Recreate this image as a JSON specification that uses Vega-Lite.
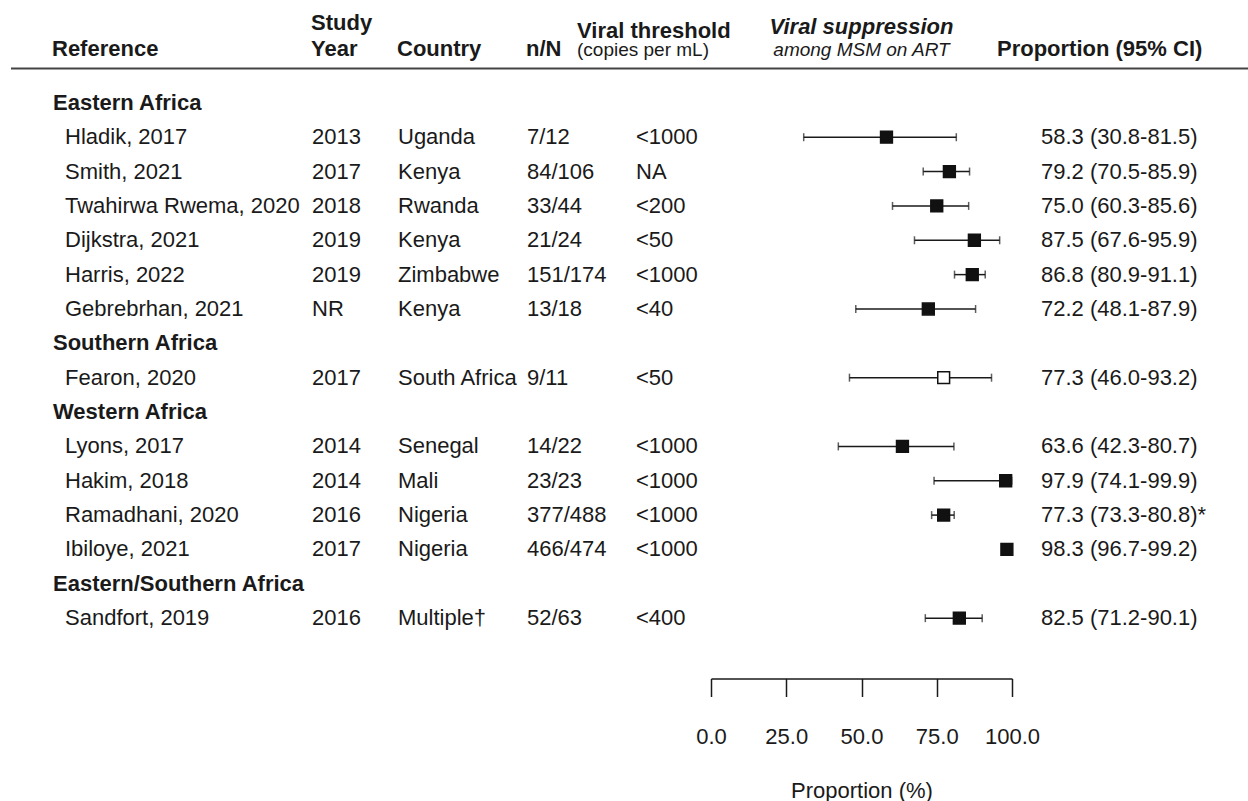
{
  "$schema": "https://vega.github.io/schema/vega-lite/v6.json",
  "padding": {"left": 10, "top": 11.5, "right": 0, "bottom": 0},
  "bounds": "flush",
  "spacing": 0,
  "config": {
    "view": {"stroke": null},
    "font": "Liberation Sans",
    "text": {"font": "Liberation Sans", "fontSize": 22, "color": "#1a1a1a"},
    "title": {"font": "Liberation Sans", "fontSize": 22, "fontWeight": "bold", "color": "#1a1a1a", "anchor": "start", "offset": 7, "subtitleFont": "Liberation Sans", "subtitleFontSize": 19, "subtitleColor": "#1a1a1a"}
  },
  "datasets": {
    "rows": [
      {"label": "Eastern Africa", "kind": "group"},
      {"label": "Hladik, 2017", "kind": "study", "year": "2013", "country": "Uganda", "nN": "7/12", "threshold": "<1000", "est": 58.3, "lo": 30.8, "hi": 81.5, "ci": "58.3 (30.8-81.5)", "source": "reported"},
      {"label": "Smith, 2021", "kind": "study", "year": "2017", "country": "Kenya", "nN": "84/106", "threshold": "NA", "est": 79.2, "lo": 70.5, "hi": 85.9, "ci": "79.2 (70.5-85.9)", "source": "reported"},
      {"label": "Twahirwa Rwema, 2020", "kind": "study", "year": "2018", "country": "Rwanda", "nN": "33/44", "threshold": "<200", "est": 75.0, "lo": 60.3, "hi": 85.6, "ci": "75.0 (60.3-85.6)", "source": "reported"},
      {"label": "Dijkstra, 2021", "kind": "study", "year": "2019", "country": "Kenya", "nN": "21/24", "threshold": "<50", "est": 87.5, "lo": 67.6, "hi": 95.9, "ci": "87.5 (67.6-95.9)", "source": "reported"},
      {"label": "Harris, 2022", "kind": "study", "year": "2019", "country": "Zimbabwe", "nN": "151/174", "threshold": "<1000", "est": 86.8, "lo": 80.9, "hi": 91.1, "ci": "86.8 (80.9-91.1)", "source": "reported"},
      {"label": "Gebrebrhan, 2021", "kind": "study", "year": "NR", "country": "Kenya", "nN": "13/18", "threshold": "<40", "est": 72.2, "lo": 48.1, "hi": 87.9, "ci": "72.2 (48.1-87.9)", "source": "reported"},
      {"label": "Southern Africa", "kind": "group"},
      {"label": "Fearon, 2020", "kind": "study", "year": "2017", "country": "South Africa", "nN": "9/11", "threshold": "<50", "est": 77.3, "lo": 46.0, "hi": 93.2, "ci": "77.3 (46.0-93.2)", "source": "derived"},
      {"label": "Western Africa", "kind": "group"},
      {"label": "Lyons, 2017", "kind": "study", "year": "2014", "country": "Senegal", "nN": "14/22", "threshold": "<1000", "est": 63.6, "lo": 42.3, "hi": 80.7, "ci": "63.6 (42.3-80.7)", "source": "reported"},
      {"label": "Hakim, 2018", "kind": "study", "year": "2014", "country": "Mali", "nN": "23/23", "threshold": "<1000", "est": 97.9, "lo": 74.1, "hi": 99.9, "ci": "97.9 (74.1-99.9)", "source": "reported"},
      {"label": "Ramadhani, 2020", "kind": "study", "year": "2016", "country": "Nigeria", "nN": "377/488", "threshold": "<1000", "est": 77.3, "lo": 73.3, "hi": 80.8, "ci": "77.3 (73.3-80.8)*", "source": "reported"},
      {"label": "Ibiloye, 2021", "kind": "study", "year": "2017", "country": "Nigeria", "nN": "466/474", "threshold": "<1000", "est": 98.3, "lo": 96.7, "hi": 99.2, "ci": "98.3 (96.7-99.2)", "source": "reported"},
      {"label": "Eastern/Southern Africa", "kind": "group"},
      {"label": "Sandfort, 2019", "kind": "study", "year": "2016", "country": "Multiple†", "nN": "52/63", "threshold": "<400", "est": 82.5, "lo": 71.2, "hi": 90.1, "ci": "82.5 (71.2-90.1)", "source": "reported"}
    ]
  },
  "hconcat": [
    {
      "width": 42, "height": 584,
      "data": {"name": "rows"},
      "transform": [{"filter": "datum.label == 'Eastern Africa'"}],
      "mark": {"type": "rule", "color": "#444", "strokeWidth": 2},
      "encoding": {"y": {"field": "label", "type": "nominal", "axis": null, "bandPosition": -0.5, "scale": {"type": "band", "paddingInner": 0, "paddingOuter": 0.5, "domain": ["Eastern Africa","Hladik, 2017","Smith, 2021","Twahirwa Rwema, 2020","Dijkstra, 2021","Harris, 2022","Gebrebrhan, 2021","Southern Africa","Fearon, 2020","Western Africa","Lyons, 2017","Hakim, 2018","Ramadhani, 2020","Ibiloye, 2021","Eastern/Southern Africa","Sandfort, 2019"]}}}
    },
    {
      "width": 259, "height": 584,
      "data": {"name": "rows"},
      "title": {"text": "Reference"},
      "layer": [
        {"transform": [{"filter": "datum.label == 'Eastern Africa'"}],
         "mark": {"type": "rule", "color": "#444", "strokeWidth": 2},
         "encoding": {"y": {"field": "label", "type": "nominal", "axis": null, "bandPosition": -0.5, "scale": {"type": "band", "paddingInner": 0, "paddingOuter": 0.5, "domain": ["Eastern Africa","Hladik, 2017","Smith, 2021","Twahirwa Rwema, 2020","Dijkstra, 2021","Harris, 2022","Gebrebrhan, 2021","Southern Africa","Fearon, 2020","Western Africa","Lyons, 2017","Hakim, 2018","Ramadhani, 2020","Ibiloye, 2021","Eastern/Southern Africa","Sandfort, 2019"]}}}},
        {"transform": [{"filter": "datum.kind == 'group'"}, {"fold": ["label"], "as": ["col", "val"]}],
         "mark": {"type": "text", "align": "left", "baseline": "middle", "fontWeight": "bold"},
         "encoding": {
           "x": {"field": "col", "type": "nominal", "axis": null, "bandPosition": 0, "scale": {"type": "band", "paddingInner": 0, "paddingOuter": 0}},
           "y": {"field": "label", "type": "nominal", "axis": null, "scale": {"type": "band", "paddingInner": 0, "paddingOuter": 0.5, "domain": ["Eastern Africa","Hladik, 2017","Smith, 2021","Twahirwa Rwema, 2020","Dijkstra, 2021","Harris, 2022","Gebrebrhan, 2021","Southern Africa","Fearon, 2020","Western Africa","Lyons, 2017","Hakim, 2018","Ramadhani, 2020","Ibiloye, 2021","Eastern/Southern Africa","Sandfort, 2019"]}},
           "text": {"field": "val"}}},
        {"transform": [{"filter": "datum.kind == 'study'"}, {"fold": ["label"], "as": ["col", "val"]}],
         "mark": {"type": "text", "align": "left", "baseline": "middle", "dx": 12},
         "encoding": {
           "x": {"field": "col", "type": "nominal", "axis": null, "bandPosition": 0, "scale": {"type": "band", "paddingInner": 0, "paddingOuter": 0}},
           "y": {"field": "label", "type": "nominal", "axis": null, "scale": {"type": "band", "paddingInner": 0, "paddingOuter": 0.5, "domain": ["Eastern Africa","Hladik, 2017","Smith, 2021","Twahirwa Rwema, 2020","Dijkstra, 2021","Harris, 2022","Gebrebrhan, 2021","Southern Africa","Fearon, 2020","Western Africa","Lyons, 2017","Hakim, 2018","Ramadhani, 2020","Ibiloye, 2021","Eastern/Southern Africa","Sandfort, 2019"]}},
           "text": {"field": "val"}}}
      ]
    },
    {
      "width": 86, "height": 584,
      "data": {"name": "rows"},
      "title": {"text": ["Study", "Year"], "lineHeight": 26},
      "layer": [
        {"transform": [{"filter": "datum.label == 'Eastern Africa'"}],
         "mark": {"type": "rule", "color": "#444", "strokeWidth": 2},
         "encoding": {"y": {"field": "label", "type": "nominal", "axis": null, "bandPosition": -0.5, "scale": {"type": "band", "paddingInner": 0, "paddingOuter": 0.5, "domain": ["Eastern Africa","Hladik, 2017","Smith, 2021","Twahirwa Rwema, 2020","Dijkstra, 2021","Harris, 2022","Gebrebrhan, 2021","Southern Africa","Fearon, 2020","Western Africa","Lyons, 2017","Hakim, 2018","Ramadhani, 2020","Ibiloye, 2021","Eastern/Southern Africa","Sandfort, 2019"]}}}},
        {"transform": [{"filter": "datum.kind == 'study'"}, {"fold": ["year"], "as": ["col", "val"]}],
         "mark": {"type": "text", "align": "left", "baseline": "middle"},
         "encoding": {
           "x": {"field": "col", "type": "nominal", "axis": null, "bandPosition": 0, "scale": {"type": "band", "paddingInner": 0, "paddingOuter": 0}},
           "y": {"field": "label", "type": "nominal", "axis": null, "scale": {"type": "band", "paddingInner": 0, "paddingOuter": 0.5, "domain": ["Eastern Africa","Hladik, 2017","Smith, 2021","Twahirwa Rwema, 2020","Dijkstra, 2021","Harris, 2022","Gebrebrhan, 2021","Southern Africa","Fearon, 2020","Western Africa","Lyons, 2017","Hakim, 2018","Ramadhani, 2020","Ibiloye, 2021","Eastern/Southern Africa","Sandfort, 2019"]}},
           "text": {"field": "val"}}}
      ]
    },
    {
      "width": 129, "height": 584,
      "data": {"name": "rows"},
      "title": {"text": "Country"},
      "layer": [
        {"transform": [{"filter": "datum.label == 'Eastern Africa'"}],
         "mark": {"type": "rule", "color": "#444", "strokeWidth": 2},
         "encoding": {"y": {"field": "label", "type": "nominal", "axis": null, "bandPosition": -0.5, "scale": {"type": "band", "paddingInner": 0, "paddingOuter": 0.5, "domain": ["Eastern Africa","Hladik, 2017","Smith, 2021","Twahirwa Rwema, 2020","Dijkstra, 2021","Harris, 2022","Gebrebrhan, 2021","Southern Africa","Fearon, 2020","Western Africa","Lyons, 2017","Hakim, 2018","Ramadhani, 2020","Ibiloye, 2021","Eastern/Southern Africa","Sandfort, 2019"]}}}},
        {"transform": [{"filter": "datum.kind == 'study'"}, {"fold": ["country"], "as": ["col", "val"]}],
         "mark": {"type": "text", "align": "left", "baseline": "middle"},
         "encoding": {
           "x": {"field": "col", "type": "nominal", "axis": null, "bandPosition": 0, "scale": {"type": "band", "paddingInner": 0, "paddingOuter": 0}},
           "y": {"field": "label", "type": "nominal", "axis": null, "scale": {"type": "band", "paddingInner": 0, "paddingOuter": 0.5, "domain": ["Eastern Africa","Hladik, 2017","Smith, 2021","Twahirwa Rwema, 2020","Dijkstra, 2021","Harris, 2022","Gebrebrhan, 2021","Southern Africa","Fearon, 2020","Western Africa","Lyons, 2017","Hakim, 2018","Ramadhani, 2020","Ibiloye, 2021","Eastern/Southern Africa","Sandfort, 2019"]}},
           "text": {"field": "val"}}}
      ]
    },
    {
      "width": 109, "height": 584,
      "data": {"name": "rows"},
      "title": {"text": "n/N"},
      "layer": [
        {"transform": [{"filter": "datum.label == 'Eastern Africa'"}],
         "mark": {"type": "rule", "color": "#444", "strokeWidth": 2},
         "encoding": {"y": {"field": "label", "type": "nominal", "axis": null, "bandPosition": -0.5, "scale": {"type": "band", "paddingInner": 0, "paddingOuter": 0.5, "domain": ["Eastern Africa","Hladik, 2017","Smith, 2021","Twahirwa Rwema, 2020","Dijkstra, 2021","Harris, 2022","Gebrebrhan, 2021","Southern Africa","Fearon, 2020","Western Africa","Lyons, 2017","Hakim, 2018","Ramadhani, 2020","Ibiloye, 2021","Eastern/Southern Africa","Sandfort, 2019"]}}}},
        {"transform": [{"filter": "datum.kind == 'study'"}, {"fold": ["nN"], "as": ["col", "val"]}],
         "mark": {"type": "text", "align": "left", "baseline": "middle"},
         "encoding": {
           "x": {"field": "col", "type": "nominal", "axis": null, "bandPosition": 0, "scale": {"type": "band", "paddingInner": 0, "paddingOuter": 0}},
           "y": {"field": "label", "type": "nominal", "axis": null, "scale": {"type": "band", "paddingInner": 0, "paddingOuter": 0.5, "domain": ["Eastern Africa","Hladik, 2017","Smith, 2021","Twahirwa Rwema, 2020","Dijkstra, 2021","Harris, 2022","Gebrebrhan, 2021","Southern Africa","Fearon, 2020","Western Africa","Lyons, 2017","Hakim, 2018","Ramadhani, 2020","Ibiloye, 2021","Eastern/Southern Africa","Sandfort, 2019"]}},
           "text": {"field": "val"}}}
      ]
    },
    {
      "width": 75, "height": 584,
      "data": {"name": "rows"},
      "title": {"text": "Viral threshold", "subtitle": "(copies per mL)", "dx": -58, "subtitlePadding": -2.5},
      "layer": [
        {"transform": [{"filter": "datum.label == 'Eastern Africa'"}],
         "mark": {"type": "rule", "color": "#444", "strokeWidth": 2},
         "encoding": {"y": {"field": "label", "type": "nominal", "axis": null, "bandPosition": -0.5, "scale": {"type": "band", "paddingInner": 0, "paddingOuter": 0.5, "domain": ["Eastern Africa","Hladik, 2017","Smith, 2021","Twahirwa Rwema, 2020","Dijkstra, 2021","Harris, 2022","Gebrebrhan, 2021","Southern Africa","Fearon, 2020","Western Africa","Lyons, 2017","Hakim, 2018","Ramadhani, 2020","Ibiloye, 2021","Eastern/Southern Africa","Sandfort, 2019"]}}}},
        {"transform": [{"filter": "datum.kind == 'study'"}, {"fold": ["threshold"], "as": ["col", "val"]}],
         "mark": {"type": "text", "align": "left", "baseline": "middle"},
         "encoding": {
           "x": {"field": "col", "type": "nominal", "axis": null, "bandPosition": 0, "scale": {"type": "band", "paddingInner": 0, "paddingOuter": 0}},
           "y": {"field": "label", "type": "nominal", "axis": null, "scale": {"type": "band", "paddingInner": 0, "paddingOuter": 0.5, "domain": ["Eastern Africa","Hladik, 2017","Smith, 2021","Twahirwa Rwema, 2020","Dijkstra, 2021","Harris, 2022","Gebrebrhan, 2021","Southern Africa","Fearon, 2020","Western Africa","Lyons, 2017","Hakim, 2018","Ramadhani, 2020","Ibiloye, 2021","Eastern/Southern Africa","Sandfort, 2019"]}},
           "text": {"field": "val"}}}
      ]
    },
    {
      "width": 301, "height": 584,
      "data": {"name": "rows"},
      "title": {"text": "Viral suppression", "subtitle": "among MSM on ART", "anchor": "middle", "fontStyle": "italic", "subtitleFontStyle": "italic", "subtitlePadding": 2},
      "layer": [
        {"transform": [{"filter": "datum.label == 'Eastern Africa'"}],
         "mark": {"type": "rule", "color": "#444", "strokeWidth": 2},
         "encoding": {"y": {"field": "label", "type": "nominal", "axis": null, "bandPosition": -0.5, "scale": {"type": "band", "paddingInner": 0, "paddingOuter": 0.5, "domain": ["Eastern Africa","Hladik, 2017","Smith, 2021","Twahirwa Rwema, 2020","Dijkstra, 2021","Harris, 2022","Gebrebrhan, 2021","Southern Africa","Fearon, 2020","Western Africa","Lyons, 2017","Hakim, 2018","Ramadhani, 2020","Ibiloye, 2021","Eastern/Southern Africa","Sandfort, 2019"]}}}},
        {"transform": [{"filter": "datum.kind == 'study'"}],
         "mark": {"type": "rule", "color": "#1a1a1a", "strokeWidth": 1.5},
         "encoding": {
           "x": {"field": "lo", "type": "quantitative", "scale": {"domain": [0, 100], "nice": false, "zero": false},
                 "axis": {"values": [0, 25, 50, 75, 100], "format": ".1f", "title": "Proportion (%)", "grid": false, "offset": 26, "tickSize": 18, "labelPadding": 30, "labelFlush": false, "labelFontSize": 22, "labelFont": "Liberation Sans", "labelColor": "#1a1a1a", "titleFontSize": 22, "titleFont": "Liberation Sans", "titleFontWeight": "normal", "titleColor": "#1a1a1a", "titlePadding": 32.5, "domainColor": "#1a1a1a", "domainWidth": 1.5, "tickColor": "#1a1a1a", "tickWidth": 1.5}},
           "x2": {"field": "hi"},
           "y": {"field": "label", "type": "nominal", "axis": null, "scale": {"type": "band", "paddingInner": 0, "paddingOuter": 0.5, "domain": ["Eastern Africa","Hladik, 2017","Smith, 2021","Twahirwa Rwema, 2020","Dijkstra, 2021","Harris, 2022","Gebrebrhan, 2021","Southern Africa","Fearon, 2020","Western Africa","Lyons, 2017","Hakim, 2018","Ramadhani, 2020","Ibiloye, 2021","Eastern/Southern Africa","Sandfort, 2019"]}}}},
        {"transform": [{"filter": "datum.kind == 'study'"}],
         "mark": {"type": "tick", "orient": "vertical", "size": 8, "thickness": 1.5, "color": "#1a1a1a"},
         "encoding": {
           "x": {"field": "lo", "type": "quantitative"},
           "y": {"field": "label", "type": "nominal", "axis": null, "scale": {"type": "band", "paddingInner": 0, "paddingOuter": 0.5, "domain": ["Eastern Africa","Hladik, 2017","Smith, 2021","Twahirwa Rwema, 2020","Dijkstra, 2021","Harris, 2022","Gebrebrhan, 2021","Southern Africa","Fearon, 2020","Western Africa","Lyons, 2017","Hakim, 2018","Ramadhani, 2020","Ibiloye, 2021","Eastern/Southern Africa","Sandfort, 2019"]}}}},
        {"transform": [{"filter": "datum.kind == 'study'"}],
         "mark": {"type": "tick", "orient": "vertical", "size": 8, "thickness": 1.5, "color": "#1a1a1a"},
         "encoding": {
           "x": {"field": "hi", "type": "quantitative"},
           "y": {"field": "label", "type": "nominal", "axis": null, "scale": {"type": "band", "paddingInner": 0, "paddingOuter": 0.5, "domain": ["Eastern Africa","Hladik, 2017","Smith, 2021","Twahirwa Rwema, 2020","Dijkstra, 2021","Harris, 2022","Gebrebrhan, 2021","Southern Africa","Fearon, 2020","Western Africa","Lyons, 2017","Hakim, 2018","Ramadhani, 2020","Ibiloye, 2021","Eastern/Southern Africa","Sandfort, 2019"]}}}},
        {"transform": [{"filter": "datum.kind == 'study'"}],
         "mark": {"type": "point", "shape": "square", "size": 140, "filled": true, "opacity": 1, "stroke": "#111", "strokeWidth": 1.5},
         "encoding": {
           "x": {"field": "est", "type": "quantitative"},
           "y": {"field": "label", "type": "nominal", "axis": null, "scale": {"type": "band", "paddingInner": 0, "paddingOuter": 0.5, "domain": ["Eastern Africa","Hladik, 2017","Smith, 2021","Twahirwa Rwema, 2020","Dijkstra, 2021","Harris, 2022","Gebrebrhan, 2021","Southern Africa","Fearon, 2020","Western Africa","Lyons, 2017","Hakim, 2018","Ramadhani, 2020","Ibiloye, 2021","Eastern/Southern Africa","Sandfort, 2019"]}},
           "fill": {"field": "source", "type": "nominal", "scale": {"domain": ["reported", "derived"], "range": ["#111111", "#ffffff"]}, "legend": null}}}
      ]
    },
    {
      "width": 29, "height": 584,
      "data": {"name": "rows"},
      "transform": [{"filter": "datum.label == 'Eastern Africa'"}],
      "mark": {"type": "rule", "color": "#444", "strokeWidth": 2},
      "encoding": {"y": {"field": "label", "type": "nominal", "axis": null, "bandPosition": -0.5, "scale": {"type": "band", "paddingInner": 0, "paddingOuter": 0.5, "domain": ["Eastern Africa","Hladik, 2017","Smith, 2021","Twahirwa Rwema, 2020","Dijkstra, 2021","Harris, 2022","Gebrebrhan, 2021","Southern Africa","Fearon, 2020","Western Africa","Lyons, 2017","Hakim, 2018","Ramadhani, 2020","Ibiloye, 2021","Eastern/Southern Africa","Sandfort, 2019"]}}}
    },
    {
      "width": 207, "height": 584,
      "data": {"name": "rows"},
      "title": {"text": "Proportion (95% CI)", "dx": -43},
      "layer": [
        {"transform": [{"filter": "datum.label == 'Eastern Africa'"}],
         "mark": {"type": "rule", "color": "#444", "strokeWidth": 2},
         "encoding": {"y": {"field": "label", "type": "nominal", "axis": null, "bandPosition": -0.5, "scale": {"type": "band", "paddingInner": 0, "paddingOuter": 0.5, "domain": ["Eastern Africa","Hladik, 2017","Smith, 2021","Twahirwa Rwema, 2020","Dijkstra, 2021","Harris, 2022","Gebrebrhan, 2021","Southern Africa","Fearon, 2020","Western Africa","Lyons, 2017","Hakim, 2018","Ramadhani, 2020","Ibiloye, 2021","Eastern/Southern Africa","Sandfort, 2019"]}}}},
        {"transform": [{"filter": "datum.kind == 'study'"}, {"fold": ["ci"], "as": ["col", "val"]}],
         "mark": {"type": "text", "align": "left", "baseline": "middle"},
         "encoding": {
           "x": {"field": "col", "type": "nominal", "axis": null, "bandPosition": 0, "scale": {"type": "band", "paddingInner": 0, "paddingOuter": 0}},
           "y": {"field": "label", "type": "nominal", "axis": null, "scale": {"type": "band", "paddingInner": 0, "paddingOuter": 0.5, "domain": ["Eastern Africa","Hladik, 2017","Smith, 2021","Twahirwa Rwema, 2020","Dijkstra, 2021","Harris, 2022","Gebrebrhan, 2021","Southern Africa","Fearon, 2020","Western Africa","Lyons, 2017","Hakim, 2018","Ramadhani, 2020","Ibiloye, 2021","Eastern/Southern Africa","Sandfort, 2019"]}},
           "text": {"field": "val"}}}
      ]
    }
  ]
}
